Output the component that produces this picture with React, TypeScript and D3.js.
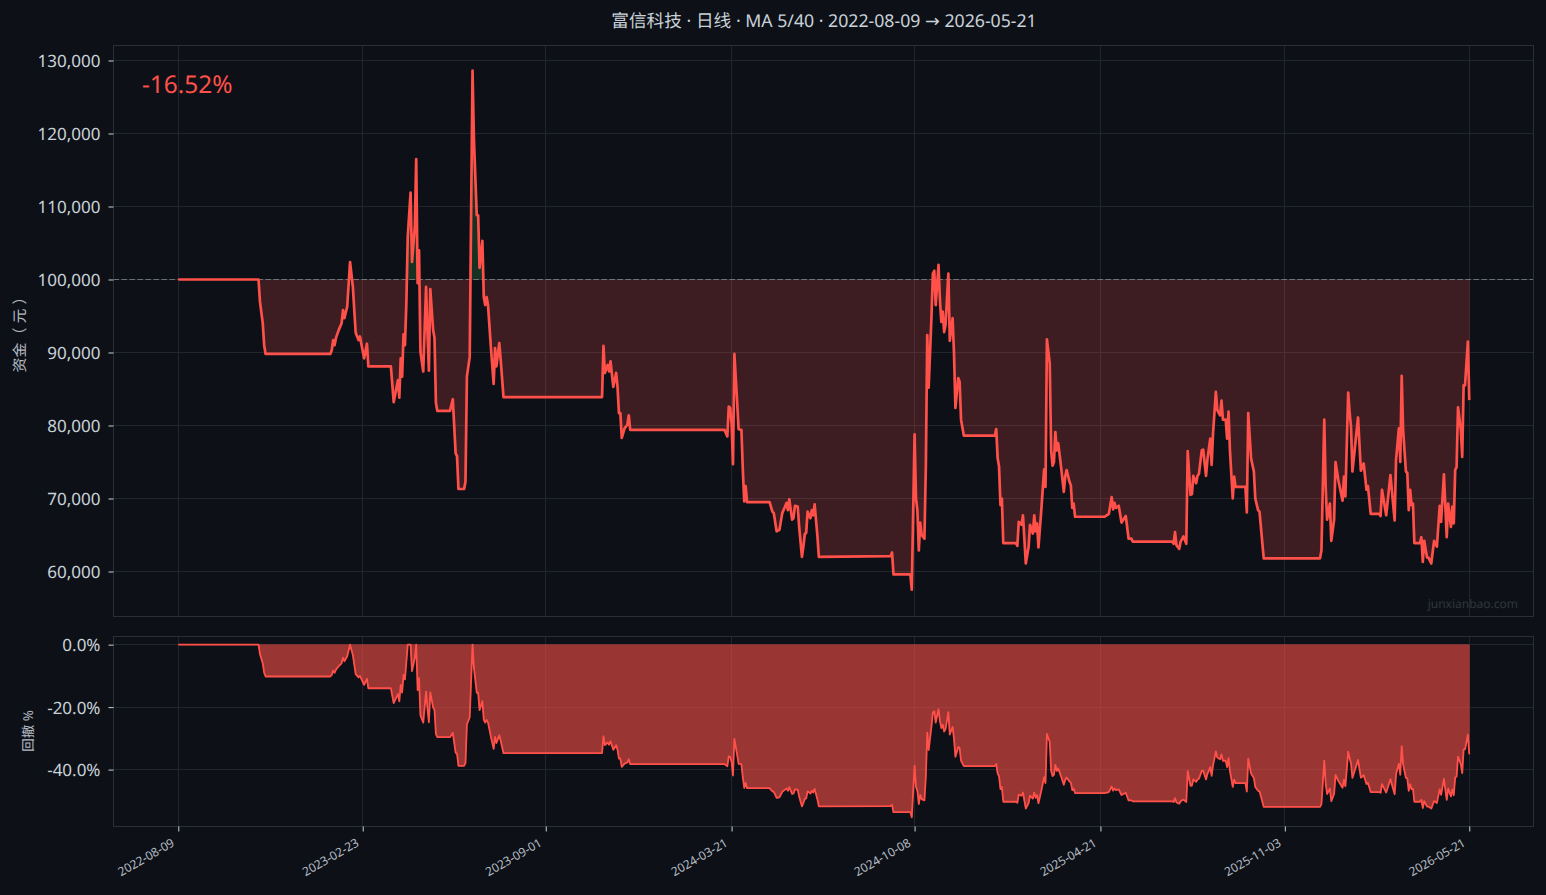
import React, { useEffect, useRef } from "react";
import * as d3 from "d3";

const WIDTH = 1546;
const HEIGHT = 895;

const BG = "#0d1117";
const GRID = "#21262d";
const SPINE = "#2a2f37";
const TEXT = "#c9d1d9";
const TEXT_DIM = "#b4bbc3";
const RED = "#ff5049";
const GREEN = "#3fb950";
const FONT = "'Noto Sans', 'Noto Sans CJK SC', sans-serif";

const titleHead = "富信科技 · 日线 · MA 5/40 · 2022-08-09 ";
const titleArrow = "→";
const titleTail = " 2026-05-21";
const returnText = "-16.52%";
const START_CAPITAL = 100000;

// trading-day ticks, the x axis runs on bar number and not on calendar time
const tickBars = [0, 131, 261, 393, 523, 655, 786, 917];
const tickDates = ["2022-08-09", "2023-02-23", "2023-09-01", "2024-03-21", "2024-10-08", "2025-04-21", "2025-11-03", "2026-05-21"];
const equityTicks = [60000, 70000, 80000, 90000, 100000, 110000, 120000, 130000];
const drawdownTicks = [0, -20, -40];

// [bar, equity]
const equity2022: [number, number][] = [
    [0, 100000], [57, 100000], [58, 97000], [59, 95500], [60, 94000], [61, 91000], [62, 89800], [108, 89800],
    [109, 90300], [110, 91700], [111, 91000], [112, 92000], [114, 93100], [116, 94000], [117, 95800], [118, 94700],
    [120, 96300], [122, 102400], [124, 99000], [126, 92700], [128, 91700], [129, 92200], [132, 89200], [134, 91200],
    [135, 88100], [151, 88100], [153, 83200], [156, 86200], [157, 83800], [158, 89200], [159, 86700], [160, 92500],
    [161, 91000], [162, 96800], [163, 105900], [165, 111900], [166, 102400], [168, 107200], [169, 116500], [170, 99500],
    [171, 104000], [172, 90100], [174, 87400], [176, 99000], [177, 92700], [178, 87500], [179, 98700], [181, 93100],
    [182, 92000], [183, 83100], [184, 82000], [193, 82000], [195, 83600], [197, 76200], [198, 75800], [199, 71300],
    [203, 71300], [204, 72300], [205, 86700], [207, 89400], [209, 128600], [210, 119100], [212, 108800], [213, 108800],
    [214, 101600], [216, 105300], [217, 97600], [218, 96500], [219, 97600], [220, 96500], [222, 90800], [224, 85700],
    [225, 90600], [226, 88100], [228, 91300], [229, 89000], [231, 83900],
];

const equity2023: [number, number][] = [
    [301, 83900], [302, 90900], [303, 87200], [305, 88300], [306, 87400], [307, 88800], [309, 85300], [311, 87200],
    [312, 85300], [313, 81700], [314, 81700], [315, 78300], [317, 79600], [319, 80100], [320, 81400], [321, 79400],
    [388, 79400], [390, 78500], [391, 82600], [392, 82400], [393, 80300], [394, 74700], [395, 89800], [397, 83100],
    [398, 79500], [400, 79400], [401, 73900], [402, 69600], [403, 71700], [404, 69500], [420, 69500], [422, 68200],
    [423, 68000], [425, 65500], [427, 65700], [429, 68000], [431, 68900], [432, 69400], [433, 68400], [434, 69900],
    [436, 67100], [437, 67300], [438, 69000], [440, 68900], [441, 66100], [443, 62000], [444, 63400], [445, 65100],
    [446, 65300], [447, 68200], [449, 67300], [450, 68400], [451, 67700], [452, 69200], [454, 64800], [455, 62000],
];

const equity2024: [number, number][] = [
    [506, 62100], [507, 62600], [508, 59600], [520, 59600], [521, 57500], [523, 78800], [524, 70000], [525, 68400],
    [526, 62900], [527, 66700], [528, 65000], [530, 64500], [531, 74400], [532, 92400], [533, 85200], [535, 94900],
    [536, 100800], [537, 101200], [538, 96500], [540, 102000], [541, 97200], [542, 94200], [543, 95600], [544, 92800],
    [545, 93800], [547, 100800], [548, 91600], [550, 94700], [551, 89900], [552, 82400], [554, 86500], [555, 86000],
    [556, 80800], [558, 78600], [580, 78600], [581, 79500], [582, 75500], [583, 74400], [584, 69100], [585, 70000],
    [586, 63900], [595, 63900], [596, 63500], [597, 66800], [599, 66400], [600, 67700], [602, 61100], [604, 63400],
    [605, 66400], [607, 65200], [608, 67700], [609, 65500], [610, 66600], [611, 63300], [613, 68400], [615, 74000],
    [616, 71600], [617, 91800], [619, 88500], [620, 76600], [621, 74500], [622, 75000], [623, 79100], [624, 76600],
    [625, 77600], [627, 74400], [629, 70900], [630, 73000], [631, 73900], [633, 72300], [634, 71800], [635, 68700],
    [636, 69300], [637, 67500],
];

const equity2025: [number, number][] = [
    [658, 67500], [661, 67900], [663, 70200], [664, 68500], [665, 69400], [666, 68700], [668, 69000], [670, 66700],
    [673, 67600], [675, 64500], [677, 64500], [678, 64100], [706, 64100], [707, 63800], [708, 65400], [709, 63600],
    [711, 63100], [712, 64100], [714, 64800], [716, 63800], [717, 76500], [719, 70500], [720, 70600], [721, 73100],
    [723, 72100], [724, 73100], [725, 73400], [727, 76600], [728, 76700], [730, 73100], [731, 75300], [733, 78200],
    [734, 74600], [735, 78900], [737, 84600], [738, 82100], [740, 81400], [741, 83400], [742, 80800], [744, 80800],
    [745, 78200], [746, 81900], [747, 76600], [749, 70000], [750, 73000], [751, 71600], [758, 71600], [759, 68100],
    [760, 81700], [762, 75500], [764, 73700], [765, 70000], [767, 68400], [768, 68200], [771, 61800],
];

const equity2026: [number, number][] = [
    [811, 61800], [812, 62900], [814, 80800], [815, 71600], [816, 67100], [818, 69300], [819, 64200], [821, 67100],
    [822, 75000], [824, 72500], [827, 69700], [828, 73000], [829, 70300], [831, 84500], [832, 81800], [833, 79800],
    [834, 73700], [838, 81100], [840, 73800], [842, 74800], [844, 71200], [845, 71700], [847, 67900], [853, 67900],
    [854, 67600], [855, 71200], [858, 67700], [861, 73200], [864, 67000], [865, 75300], [867, 79600], [868, 75000],
    [869, 86800], [870, 79400], [872, 73700], [873, 73500], [874, 68400], [875, 71200], [876, 69100], [877, 69300],
    [878, 63900], [882, 63900], [883, 64700], [884, 61300], [885, 64200], [887, 61900], [888, 61900], [890, 61100],
    [892, 64200], [894, 63400], [896, 69000], [897, 66800], [899, 73300], [901, 64700], [902, 69300], [904, 66100],
    [905, 68900], [906, 66600], [907, 73900], [908, 74300], [909, 82500], [911, 79400], [912, 75700], [913, 85500],
    [914, 85500], [916, 91500], [917, 83480],
];

const equityPoints = [...equity2022, ...equity2023, ...equity2024, ...equity2025, ...equity2026];

export default function App() {
    const svgRef = useRef<SVGSVGElement>(null);

    useEffect(() => {
        document.body.style.margin = "0";
        document.body.style.background = BG;

        const svg = d3.select(svgRef.current);
        svg.selectAll("*").remove();

        const box = { left: 113.5, right: 1533.5, top: 45.5, bottom: 616.5, ddTop: 636.5, ddBottom: 826.5 };

        const x = d3.scaleLinear().domain([-46.45, 962.2]).range([112.9, 1532.9]);
        const y = d3.scaleLinear().domain([53904, 132123]).range([616, 45]);
        const yDd = d3.scaleLinear().domain([-58.07, 2.77]).range([826, 636]);

        // drawdown against the running peak
        let peak = -Infinity;
        const drawdown = equityPoints.map(([bar, v]) => {
            peak = Math.max(peak, v);
            return [bar, ((v - peak) / peak) * 100] as [number, number];
        });

        svg.append("rect").attr("width", WIDTH).attr("height", HEIGHT).attr("fill", BG);

        const defs = svg.append("defs");
        defs.append("clipPath").attr("id", "above")
            .append("rect").attr("x", box.left).attr("y", box.top)
            .attr("width", box.right - box.left).attr("height", y(START_CAPITAL) - box.top);
        defs.append("clipPath").attr("id", "below")
            .append("rect").attr("x", box.left).attr("y", y(START_CAPITAL))
            .attr("width", box.right - box.left).attr("height", box.bottom - y(START_CAPITAL));

        const gridLine = (g: any, x1: number, y1: number, x2: number, y2: number) =>
            g.append("line").attr("x1", x1).attr("y1", y1).attr("x2", x2).attr("y2", y2)
                .attr("stroke", GRID).attr("stroke-width", 1);

        // main panel
        const main = svg.append("g");
        equityTicks.forEach((t) => gridLine(main, box.left, Math.floor(y(t)) + 0.5, box.right, Math.floor(y(t)) + 0.5));
        tickBars.forEach((b) => gridLine(main, Math.floor(x(b)) + 0.5, box.top, Math.floor(x(b)) + 0.5, box.bottom));

        const fillArea = d3.area<[number, number]>()
            .x((d) => x(d[0]))
            .y0(y(START_CAPITAL))
            .y1((d) => y(d[1]));
        main.append("path").datum(equityPoints).attr("d", fillArea)
            .attr("fill", RED).attr("fill-opacity", 0.2).attr("clip-path", "url(#below)")
            .attr("stroke", RED).attr("stroke-opacity", 0.12);
        main.append("path").datum(equityPoints).attr("d", fillArea)
            .attr("fill", GREEN).attr("fill-opacity", 0.2).attr("clip-path", "url(#above)");

        main.append("line")
            .attr("x1", box.left).attr("x2", box.right)
            .attr("y1", y(START_CAPITAL)).attr("y2", y(START_CAPITAL))
            .attr("stroke", "#8b949e").attr("stroke-opacity", 0.7)
            .attr("stroke-width", 1).attr("stroke-dasharray", "5.5 2.5");

        const equityLine = d3.line<[number, number]>().x((d) => x(d[0])).y((d) => y(d[1]));
        main.append("path").datum(equityPoints).attr("d", equityLine)
            .attr("fill", "none").attr("stroke", RED).attr("stroke-width", 2.7).attr("stroke-linejoin", "round");

        main.append("rect")
            .attr("x", box.left).attr("y", box.top)
            .attr("width", box.right - box.left).attr("height", box.bottom - box.top)
            .attr("fill", "none").attr("stroke", SPINE);

        const yAxis = d3.axisLeft(y).tickValues(equityTicks).tickFormat(d3.format(",d") as any).tickSize(5).tickPadding(8);
        const yAxisG = main.append("g").attr("transform", `translate(${box.left},0)`).call(yAxis);

        main.append("text").attr("x", 142).attr("y", 93)
            .attr("fill", RED).attr("font-size", 24.4).text(returnText);
        main.append("text").attr("x", 1518).attr("y", 608).attr("text-anchor", "end")
            .attr("fill", "#30363d").attr("font-size", 12).text("junxianbao.com");
        main.append("text")
            .attr("transform", "translate(25,331) rotate(-90)")
            .attr("text-anchor", "middle").attr("fill", TEXT_DIM).attr("font-size", 15)
            .text("资金（ 元 ）");

        // drawdown panel
        const dd = svg.append("g");
        drawdownTicks.forEach((t) => gridLine(dd, box.left, Math.floor(yDd(t)) + 0.5, box.right, Math.floor(yDd(t)) + 0.5));
        tickBars.forEach((b) => gridLine(dd, Math.floor(x(b)) + 0.5, box.ddTop, Math.floor(x(b)) + 0.5, box.ddBottom));

        const ddArea = d3.area<[number, number]>()
            .x((d) => x(d[0]))
            .y0(yDd(0))
            .y1((d) => yDd(d[1]));
        dd.append("path").datum(drawdown).attr("d", ddArea)
            .attr("fill", RED).attr("fill-opacity", 0.58)
            .attr("stroke", RED).attr("stroke-opacity", 0.35);
        const ddLine = d3.line<[number, number]>().x((d) => x(d[0])).y((d) => yDd(d[1]));
        dd.append("path").datum(drawdown).attr("d", ddLine)
            .attr("fill", "none").attr("stroke", RED).attr("stroke-width", 1.8).attr("stroke-linejoin", "round");

        dd.append("rect")
            .attr("x", box.left).attr("y", box.ddTop)
            .attr("width", box.right - box.left).attr("height", box.ddBottom - box.ddTop)
            .attr("fill", "none").attr("stroke", SPINE);

        const ddAxis = d3.axisLeft(yDd).tickValues(drawdownTicks).tickFormat((d: any) => `${d.toFixed(1)}%`).tickSize(5).tickPadding(8);
        const ddAxisG = dd.append("g").attr("transform", `translate(${box.left},0)`).call(ddAxis);

        [yAxisG, ddAxisG].forEach((g) => {
            g.select(".domain").remove();
            g.selectAll("line").attr("stroke", TEXT);
            g.selectAll("text").attr("fill", TEXT).attr("font-size", 17).attr("font-family", FONT).attr("y", 0.8);
        });

        const xAxis = d3.axisBottom(x).tickValues(tickBars).tickFormat((_, i) => tickDates[i]).tickSize(5).tickPadding(6);
        const xAxisG = dd.append("g").attr("transform", `translate(0,${box.ddBottom})`).call(xAxis);
        xAxisG.select(".domain").remove();
        xAxisG.selectAll("line").attr("stroke", TEXT);
        xAxisG.selectAll("text")
            .attr("fill", TEXT_DIM).attr("font-size", 12).attr("font-family", FONT)
            .attr("text-anchor", "end").attr("dy", "0.5em")
            .attr("transform", "translate(-12,4) rotate(-30)");

        dd.append("text")
            .attr("transform", "translate(33,731) rotate(-90)")
            .attr("text-anchor", "middle").attr("fill", TEXT_DIM).attr("font-size", 13.5)
            .text("回撤 %");

        const title = svg.append("text").attr("x", 824).attr("y", 27).attr("text-anchor", "middle")
            .attr("fill", TEXT).attr("font-size", 17.7).attr("xml:space", "preserve");
        title.append("tspan").text(titleHead);
        title.append("tspan").attr("font-family", "'DejaVu Sans'").text(titleArrow);
        title.append("tspan").text(titleTail);
    }, []);

    return (
        <svg
            ref={svgRef}
            width={WIDTH}
            height={HEIGHT}
            fontFamily={FONT}
            textRendering="geometricPrecision"
            style={{ position: "absolute", left: 0, top: 0, display: "block", opacity: 0.999 }}
        />
    );
}
